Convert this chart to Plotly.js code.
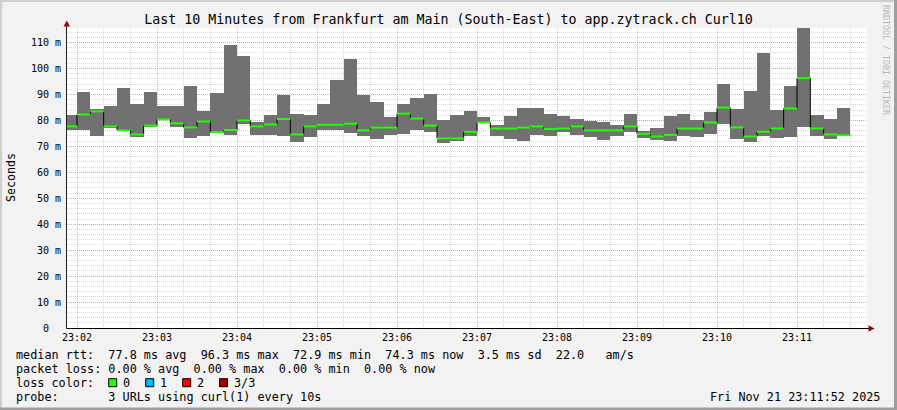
<!DOCTYPE html>
<html><head><meta charset="utf-8">
<script src="https://cdn.plot.ly/plotly-3.0.1.min.js"></script>
<style>html,body{margin:0;padding:0;background:#f2f2f2;overflow:hidden}#chart{width:897px;height:410px;}</style>
</head><body><div id="chart"></div>
<script>
// ---- data (10 s steps; each value covers [edge i, edge i+1]) ----
const day = '2025-11-21 ';
const stepEdges = [
 '23:01:50','23:02:00','23:02:10','23:02:20','23:02:30','23:02:40','23:02:50',
 '23:03:00','23:03:10','23:03:20','23:03:30','23:03:40','23:03:50',
 '23:04:00','23:04:10','23:04:20','23:04:30','23:04:40','23:04:50',
 '23:05:00','23:05:10','23:05:20','23:05:30','23:05:40','23:05:50',
 '23:06:00','23:06:10','23:06:20','23:06:30','23:06:40','23:06:50',
 '23:07:00','23:07:10','23:07:20','23:07:30','23:07:40','23:07:50',
 '23:08:00','23:08:10','23:08:20','23:08:30','23:08:40','23:08:50',
 '23:09:00','23:09:10','23:09:20','23:09:30','23:09:40','23:09:50',
 '23:10:00','23:10:10','23:10:20','23:10:30','23:10:40','23:10:50',
 '23:11:00','23:11:10','23:11:20','23:11:30','23:11:40'];
const medianRtt = [
 77.7, 82.3, 83.5, 77.7, 76.2, 74.6, 78.0,
 80.4, 78.9, 77.3, 79.6, 75.5, 76.3,
 80.0, 77.7, 78.4, 80.5, 74.6, 77.7,
 78.3, 78.3, 78.7, 76.2, 77.2, 77.2,
 82.6, 80.7, 78.0, 73.1, 73.1, 75.6,
 79.2, 76.9, 76.9, 77.2, 77.7, 76.7,
 76.9, 77.7, 76.2, 76.2, 76.2, 77.7,
 74.8, 73.8, 74.4, 76.9, 76.9, 79.2,
 84.9, 77.3, 73.8, 75.6, 76.9, 84.6,
 96.3, 76.9, 74.6, 74.3];
const smokeMin = [
 76.2, 76.2, 73.8, 77.1, 75.8, 73.5, 77.4,
 80.0, 77.3, 73.1, 73.8, 75.1, 74.5,
 78.7, 74.2, 74.5, 74.1, 71.5, 73.6,
 76.4, 76.2, 75.1, 73.8, 72.8, 74.3,
 74.6, 76.4, 75.4, 71.3, 72.0, 73.8,
 79.0, 73.8, 72.8, 71.9, 74.5, 74.1,
 75.4, 74.5, 73.5, 72.6, 73.8, 75.4,
 73.2, 72.6, 71.9, 73.8, 73.5, 74.9,
 78.7, 72.8, 71.5, 73.8, 73.1, 73.5,
 77.5, 74.1, 72.8, 74.1];
const smokeMax = [
 82.2, 90.8, 84.4, 85.4, 92.4, 86.2, 90.8,
 85.7, 85.7, 93.2, 83.5, 90.4, 109.0,
 104.8, 79.2, 82.2, 89.9, 82.6, 82.2,
 86.5, 95.7, 103.8, 89.9, 87.2, 81.3,
 86.5, 88.8, 90.3, 80.3, 82.1, 83.5,
 81.4, 78.2, 81.7, 84.9, 84.9, 82.6,
 81.7, 80.7, 79.9, 79.2, 78.2, 82.6,
 76.0, 76.9, 81.6, 82.6, 80.3, 83.4,
 94.2, 84.5, 91.5, 105.9, 84.1, 93.4,
 118.0, 82.2, 80.7, 84.9];
const yTickVals = [0,10,20,30,40,50,60,70,80,90,100,110];
const yTickText = ['0\u00a0\u00a0','10 m','20 m','30 m','40 m','50 m','60 m','70 m','80 m','90 m','100 m','110 m'];
const lossLabels = ['0','1','2','3/3'];
const lossColors = ['#26ff00','#00b8ff','#ff0000','#a00000'];
const titleText = 'Last 10 Minutes from Frankfurt am Main (South-East) to app.zytrack.ch Curl10';
const statLines = [
 'median rtt:  77.8 ms avg  96.3 ms max  72.9 ms min  74.3 ms now  3.5 ms sd  22.0   am/s',
 'packet loss: 0.00 % avg  0.00 % max  0.00 % min  0.00 % now',
 'loss color:',
 'probe:       3 URLs using curl(1) every 10s'];
const stampText = 'Fri Nov 21 23:11:52 2025';

// ---- geometry helpers (pixel -> paper) ----
const L = 67, R = 867, T = 28, B = 328;
const px = x => (x - L) / (R - L);
const py = y => (B - y) / (B - T);
const mono = 'DejaVu Sans Mono';
const nb = s => s.replace(/ /g, '\u00a0');

// ---- traces ----
const n = medianRtt.length;
const barX = stepEdges.slice(0, n).map(t => day + t);
const smoke = {
  type: 'bar', x: barX, base: smokeMin,
  y: smokeMax.map((v, i) => v - smokeMin[i]),
  width: 10000, offset: 0,
  marker: {color: '#717171', line: {width: 0}},
  hoverinfo: 'skip', showlegend: false
};
const medianStep = {
  type: 'scatter', mode: 'lines',
  x: stepEdges.map(t => day + t),
  y: medianRtt.concat([medianRtt[n - 1]]),
  line: {shape: 'hv', color: '#000000', width: 1},
  hoverinfo: 'skip', showlegend: false
};
const segX = [], segY = [];
for (let i = 0; i < n; i++) {
  segX.push(day + stepEdges[i], day + stepEdges[i + 1], null);
  segY.push(medianRtt[i], medianRtt[i], null);
}
const medianGreen = {
  type: 'scatter', mode: 'lines', x: segX, y: segY,
  line: {color: lossColors[0], width: 2}, connectgaps: false,
  hoverinfo: 'skip', showlegend: false
};

// ---- shapes ----
const shapes = [
  {type: 'line', xref: 'paper', yref: 'paper', x0: px(66.5), x1: px(869), y0: py(328.5), y1: py(328.5), line: {color: '#000000', width: 1}},
  {type: 'line', xref: 'paper', yref: 'paper', x0: px(66.5), x1: px(66.5), y0: py(328.5), y1: py(24), line: {color: '#212121', width: 1}},
  {type: 'path', xref: 'paper', yref: 'paper', fillcolor: '#8b0d0d', line: {width: 0},
   path: `M ${px(63.5)} ${py(26.5)} L ${px(70)} ${py(26.5)} L ${px(66.75)} ${py(20.5)} Z`},
  {type: 'path', xref: 'paper', yref: 'paper', fillcolor: '#8b0d0d', line: {width: 0},
   path: `M ${px(868.5)} ${py(325.3)} L ${px(868.5)} ${py(331.7)} L ${px(874.5)} ${py(328.5)} Z`},
  {type: 'rect', xref: 'paper', yref: 'paper', x0: px(0), x1: px(897), y0: py(0), y1: py(2), fillcolor: '#cfcfcf', line: {width: 0}},
  {type: 'rect', xref: 'paper', yref: 'paper', x0: px(0), x1: px(2), y0: py(0), y1: py(410), fillcolor: '#cfcfcf', line: {width: 0}},
  {type: 'rect', xref: 'paper', yref: 'paper', x0: px(0), x1: px(897), y0: py(407.5), y1: py(410), fillcolor: '#9e9e9e', line: {width: 0}},
  {type: 'rect', xref: 'paper', yref: 'paper', x0: px(894), x1: px(897), y0: py(0), y1: py(410), fillcolor: '#9e9e9e', line: {width: 0}}
];
const boxX = [108.7, 145.7, 182.7, 219.5];
const boxLabelX = [122.5, 160, 196.5, 234];
lossColors.forEach((c, i) => {
  shapes.push({type: 'rect', xref: 'paper', yref: 'paper',
    x0: px(boxX[i]), x1: px(boxX[i] + 8), y0: py(378.7), y1: py(386.7),
    fillcolor: c, line: {color: '#000000', width: 1}});
});

// ---- annotations ----
const fsLeg = 11.8;
const ann = [];
const lineY = [354.5, 368.5, 382.5, 396.5];
statLines.forEach((s, i) => {
  ann.push({xref: 'paper', yref: 'paper', x: px(15.5), y: py(lineY[i]), xanchor: 'left', yanchor: 'middle',
    text: nb(s), showarrow: false, borderpad: 0, borderwidth: 0,
    font: {family: mono, size: fsLeg, color: '#000000'}});
});
lossLabels.forEach((s, i) => {
  ann.push({xref: 'paper', yref: 'paper', x: px(boxLabelX[i]), y: py(lineY[2]), xanchor: 'left', yanchor: 'middle',
    text: s, showarrow: false, borderpad: 0, borderwidth: 0,
    font: {family: mono, size: fsLeg, color: '#000000'}});
});
ann.push({xref: 'paper', yref: 'paper', x: px(880), y: py(lineY[3]), xanchor: 'right', yanchor: 'middle',
  text: nb(stampText), showarrow: false, borderpad: 0, borderwidth: 0,
  font: {family: mono, size: fsLeg, color: '#000000'}});
ann.push({xref: 'paper', yref: 'paper', x: px(11), y: py(177), xanchor: 'center', yanchor: 'middle',
  text: 'Seconds', textangle: -90, showarrow: false, borderpad: 0, borderwidth: 0,
  font: {family: mono, size: 11.6, color: '#000000'}});
ann.push({xref: 'paper', yref: 'paper', x: px(886), y: py(60), xanchor: 'center', yanchor: 'middle',
  text: nb('RRDTOOL / TOBI OETIKER'), textangle: 90, showarrow: false, borderpad: 0, borderwidth: 0,
  font: {family: mono, size: 8.3, color: '#b8b8b8'}});

const gridDash = '1px,1px';
const layout = {
  width: 897, height: 410, autosize: false,
  margin: {l: L, r: 897 - R, t: T, b: 410 - B, pad: 0},
  paper_bgcolor: '#f2f2f2', plot_bgcolor: '#ffffff',
  showlegend: false, bargap: 0, barmode: 'overlay',
  title: {text: titleText, x: 0.5, xref: 'container', xanchor: 'center',
          y: 1 - 19 / 410, yref: 'container', yanchor: 'middle',
          font: {family: mono, size: 13.3, color: '#000000'}},
  xaxis: {type: 'date', range: [day + '23:01:52.5', day + '23:11:52.5'],
          tickmode: 'linear', tick0: day + '23:00:00', dtick: 60000, tickformat: '%H:%M',
          showgrid: true, gridcolor: 'rgba(245,128,128,0.7)', griddash: gridDash, gridwidth: 1,
          minor: {tickmode: 'linear', tick0: day + '23:00:00', dtick: 20000, showgrid: true,
                  gridcolor: '#dadada', griddash: gridDash, gridwidth: 1},
          showline: false, zeroline: false, ticks: '', ticklabelstandoff: 2,
          tickfont: {family: mono, size: 10, color: '#000000'}, fixedrange: true},
  yaxis: {range: [0, 115.6], tickmode: 'array', tickvals: yTickVals, ticktext: yTickText,
          showgrid: true, gridcolor: 'rgba(245,128,128,0.7)', griddash: gridDash, gridwidth: 1,
          minor: {tickmode: 'linear', tick0: 0, dtick: 2, showgrid: true,
                  gridcolor: '#dadada', griddash: gridDash, gridwidth: 1},
          showline: false, zeroline: false, ticks: '', ticklabelstandoff: 5,
          tickfont: {family: mono, size: 10, color: '#000000'}, fixedrange: true},
  shapes: shapes, annotations: ann
};

Plotly.newPlot('chart', [smoke, medianStep, medianGreen], layout, {displayModeBar: false, staticPlot: true});
</script></body></html>
